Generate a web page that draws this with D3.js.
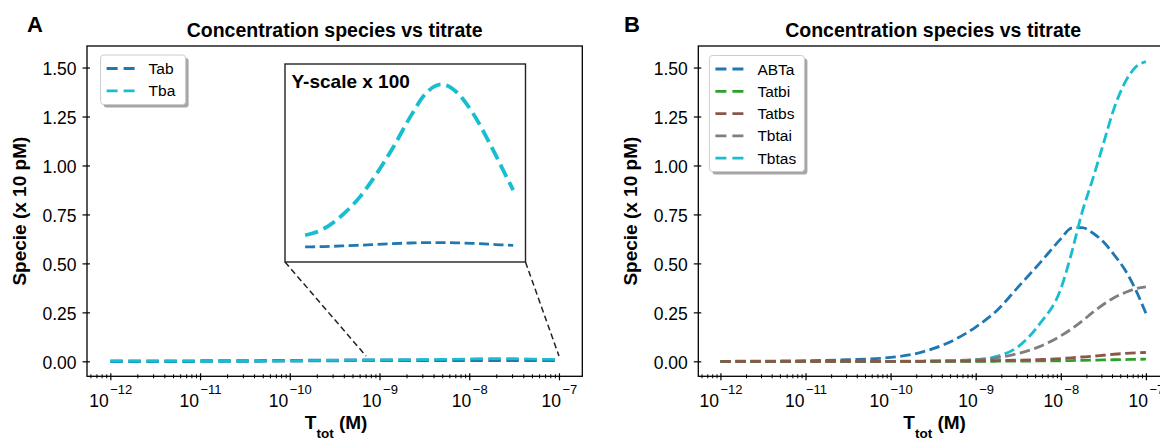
<!DOCTYPE html>
<html>
<head>
<meta charset="utf-8">
<script src="https://cdn.jsdelivr.net/npm/d3@7"></script>
<style>
  body { margin: 0; background: #fff; }
  svg text { font-family: "Liberation Sans", Arial, sans-serif; fill: #000; }
</style>
</head>
<body>
<div id="chart"></div>
<script>
// ---- data (log10 of T_tot in M, species in units of 10 pM) ----
var log10TtotA = [-12, -11, -10, -9.5, -9, -8.5, -8, -7.75, -7.5, -7.25, -7];
var tabA = [0.0002, 0.001, 0.003, 0.0045, 0.0058, 0.0059, 0.006, 0.006, 0.006, 0.0059, 0.0058];
var tbaA = [0.0002, 0.0006, 0.003, 0.005, 0.0065, 0.0085, 0.0123, 0.014, 0.0135, 0.011, 0.0085];

// inset of panel A, y values x 100
var log10TtotInset = [-8.97, -8.8, -8.64, -8.48, -8.33, -8.18, -8.03, -7.89, -7.75, -7.62, -7.47, -7.32, -7.2, -7.11];
var tabInset = [0.576, 0.578, 0.581, 0.585, 0.589, 0.593, 0.596, 0.598, 0.598, 0.597, 0.594, 0.590, 0.586, 0.584];
var tbaInset = [0.635, 0.669, 0.736, 0.829, 0.947, 1.082, 1.233, 1.352, 1.397, 1.360, 1.251, 1.099, 0.964, 0.863];
var zoomWindowExp = [-9.15, -7];   // x range shown in the inset
var zoomWindowTop = 0.027;         // top of the zoomed region in panel A
var insetYDomain = [0.5, 1.5];

var log10TtotB = [-12, -11.5, -11, -10.5, -10, -9.75, -9.5, -9.25, -9, -8.75, -8.5, -8.25, -8, -7.875, -7.75, -7.625, -7.5, -7.375, -7.25, -7.125, -7];
var abtaB  = [0, 0.001, 0.003, 0.008, 0.020, 0.035, 0.065, 0.11, 0.175, 0.26, 0.38, 0.50, 0.625, 0.68, 0.683, 0.655, 0.61, 0.545, 0.47, 0.37, 0.245];
var tatbiB = [0, 0, 0, 0, 0, 0, 0, 0, 0, 0.0005, 0.001, 0.002, 0.003, 0.004, 0.005, 0.006, 0.007, 0.008, 0.009, 0.010, 0.011];
var tatbsB = [0, 0, 0, 0, 0, 0, 0.0005, 0.001, 0.002, 0.004, 0.006, 0.009, 0.014, 0.018, 0.022, 0.026, 0.031, 0.036, 0.040, 0.043, 0.045];
var tbtaiB = [0, 0, 0, 0, 0, 0.001, 0.002, 0.004, 0.008, 0.018, 0.04, 0.075, 0.13, 0.165, 0.205, 0.25, 0.29, 0.325, 0.35, 0.37, 0.38];
var tbtasB = [0, 0, 0, 0, 0, 0, 0, 0.002, 0.008, 0.025, 0.075, 0.19, 0.37, 0.55, 0.76, 0.93, 1.11, 1.29, 1.42, 1.50, 1.53];

var seriesA = ["Tab", "Tba"];
var seriesB = ["ABTa", "Tatbi", "Tatbs", "Tbtai", "Tbtas"];
var yTicks = [0, 0.25, 0.5, 0.75, 1.0, 1.25, 1.5];
var xTickExponents = [-12, -11, -10, -9, -8, -7];
var titleText = "Concentration species vs titrate";

// ---- layout ----
var W = 1160, H = 439;
var plotTop = 46, plotBottom = 376.3;
var xDomainExp = [-12.26, -6.74];
var yDomain = [-0.0765, 1.61];
var blue = "#1f77b4", cyan = "#17becf", green = "#2ca02c", brown = "#8c564b", gray = "#7f7f7f";

var svg = d3.select("#chart").append("svg")
    .attr("width", W)
    .attr("height", H)
    .style("display", "block");

var panels = [
    {
        id: "A", left: 87, right: 582.3, letterX: 27, ylabelX: 26,
        names: seriesA, log: log10TtotA, values: [tabA, tbaA],
        colors: [blue, cyan], lw: [3.5, 2.6], dash: ["12.5,5.5", "12.5,5.5"],
        order: [0, 1],
        legend: {x: 100.6, y: 55, w: 85, h: 49.5}
    },
    {
        id: "B", left: 698.3, right: 1168, letterX: 624, ylabelX: 636.5,
        names: seriesB, log: log10TtotB, values: [abtaB, tatbiB, tatbsB, tbtaiB, tbtasB],
        colors: [blue, green, brown, gray, cyan], lw: [2.8, 2.8, 2.8, 2.8, 2.8],
        dash: ["10.5,4.5", "10.5,4.5", "10.5,4.5", "10.5,4.5", "10.5,4.5"],
        order: [0, 4, 3, 1, 2],
        legend: {x: 709.4, y: 55.5, w: 95, h: 116}
    }
];

function drawLegend(g, p) {
    var L = p.legend;
    var lg = g.append("g");
    lg.append("rect") // shadow
        .attr("x", L.x + 3).attr("y", L.y + 3)
        .attr("width", L.w).attr("height", L.h)
        .attr("rx", 3)
        .attr("fill", "#4d4d4d").attr("opacity", 0.5);
    lg.append("rect")
        .attr("x", L.x).attr("y", L.y)
        .attr("width", L.w).attr("height", L.h)
        .attr("rx", 3)
        .attr("fill", "#fff").attr("stroke", "#cccccc").attr("stroke-width", 1);
    p.names.forEach(function (name, i) {
        var cy = L.y + 13.5 + i * 22.3;
        lg.append("line")
            .attr("x1", L.x + 6).attr("x2", L.x + 34)
            .attr("y1", cy).attr("y2", cy)
            .attr("stroke", p.colors[i])
            .attr("stroke-width", 2.8)
            .attr("stroke-dasharray", "11,6");
        lg.append("text")
            .attr("x", L.x + 48).attr("y", cy)
            .attr("dy", "0.36em")
            .style("font-size", "15.5px")
            .text(name);
    });
}

function drawPanel(p) {
    var x = d3.scaleLog()
        .domain(xDomainExp.map(function (e) { return Math.pow(10, e); }))
        .range([p.left, p.right]);
    var y = d3.scaleLinear().domain(yDomain).range([plotBottom, plotTop]);
    var g = svg.append("g");

    svg.append("clipPath").attr("id", "clip" + p.id)
        .append("rect")
        .attr("x", p.left).attr("y", plotTop)
        .attr("width", p.right - p.left).attr("height", plotBottom - plotTop);

    var line = d3.line()
        .x(function (d) { return x(d[0]); })
        .y(function (d) { return y(d[1]); })
        .curve(d3.curveMonotoneX);

    p.order.forEach(function (i) {
        var pts = p.log.map(function (e, k) { return [Math.pow(10, e), p.values[i][k]]; });
        g.append("path")
            .datum(pts)
            .attr("d", line)
            .attr("fill", "none")
            .attr("stroke", p.colors[i])
            .attr("stroke-width", p.lw[i])
            .attr("stroke-dasharray", p.dash[i])
            .attr("clip-path", "url(#clip" + p.id + ")");
    });

    // x axis: minor then major ticks, direction in-out
    var minors = x.ticks().filter(function (v) {
        var l = Math.log10(v);
        return Math.abs(l - Math.round(l)) > 1e-6;
    });
    var xMinor = g.append("g")
        .attr("transform", "translate(0," + plotBottom + ")")
        .call(d3.axisBottom(x).tickValues(minors).tickSize(2).tickFormat(""));
    xMinor.select(".domain").remove();
    xMinor.selectAll(".tick line").attr("y1", -2).attr("stroke-width", 1);

    var majors = xTickExponents.map(function (e) { return Math.pow(10, e); });
    var xMajor = g.append("g")
        .attr("transform", "translate(0," + plotBottom + ")")
        .call(d3.axisBottom(x).tickValues(majors).tickSize(4));
    xMajor.attr("font-size", null).attr("font-family", null);
    xMajor.select(".domain").remove();
    xMajor.selectAll(".tick line").attr("y1", -3).attr("stroke-width", 1.2);
    xMajor.selectAll(".tick text").each(function (d) {
        var t = d3.select(this).text(null).attr("y", 30.5).attr("dy", null).style("font-size", "17.5px");
        t.append("tspan").text("10");
        t.append("tspan")
            .attr("dx", 1.5)
            .attr("dy", -13)
            .style("font-size", "13px")
            .text("\u2212" + Math.abs(Math.round(Math.log10(d))));
    });

    // y axis
    var yAx = g.append("g")
        .attr("transform", "translate(" + p.left + ",0)")
        .call(d3.axisLeft(y).tickValues(yTicks).tickSize(4.5).tickPadding(6).tickFormat(d3.format(".2f")));
    yAx.attr("font-size", null).attr("font-family", null);
    yAx.select(".domain").remove();
    yAx.selectAll(".tick line").attr("x1", 3).attr("stroke-width", 1.2);
    yAx.selectAll(".tick text").attr("dy", "0.4em").style("font-size", "17.5px");

    // frame
    g.append("rect")
        .attr("x", p.left).attr("y", plotTop)
        .attr("width", p.right - p.left).attr("height", plotBottom - plotTop)
        .attr("fill", "none").attr("stroke", "#000").attr("stroke-width", 1.3);

    // titles and labels
    var cx = (p.left + p.right) / 2;
    g.append("text")
        .attr("x", cx).attr("y", 36.5)
        .attr("text-anchor", "middle")
        .style("font-size", "19.5px").style("font-weight", "bold")
        .text(titleText);
    g.append("text")
        .attr("x", p.letterX).attr("y", 32)
        .style("font-size", "22px").style("font-weight", "bold")
        .text(p.id);
    g.append("text")
        .attr("transform", "translate(" + p.ylabelX + "," + (plotTop + plotBottom) / 2 + ") rotate(-90)")
        .attr("text-anchor", "middle")
        .style("font-size", "19px").style("font-weight", "bold")
        .text("Specie (x 10 pM)");
    var xl = g.append("text")
        .attr("x", cx + 1.5).attr("y", 428.5)
        .attr("text-anchor", "middle")
        .style("font-size", "19px").style("font-weight", "bold");
    xl.append("tspan").text("T");
    xl.append("tspan").attr("dy", 9).style("font-size", "13.5px").text("tot");
    xl.append("tspan").attr("dy", -9).text(" (M)");

    return {g: g, x: x, y: y};
}

var axA = drawPanel(panels[0]);
var axB = drawPanel(panels[1]);

// ---- inset of panel A ----
var inset = {left: 285, right: 525.5, top: 64, bottom: 262};
var gI = axA.g.append("g");

// connectors from inset corners to the zoomed region
[[inset.left, zoomWindowExp[0]], [inset.right, zoomWindowExp[1]]].forEach(function (c) {
    gI.append("line")
        .attr("x1", c[0]).attr("y1", inset.bottom)
        .attr("x2", axA.x(Math.pow(10, c[1]))).attr("y2", axA.y(zoomWindowTop))
        .attr("stroke", "#222").attr("stroke-width", 1.5)
        .attr("stroke-dasharray", "6,3.5");
});

gI.append("rect")
    .attr("x", inset.left).attr("y", inset.top)
    .attr("width", inset.right - inset.left).attr("height", inset.bottom - inset.top)
    .attr("fill", "#fff").attr("stroke", "#222").attr("stroke-width", 1.4);

var xI = d3.scaleLog()
    .domain(zoomWindowExp.map(function (e) { return Math.pow(10, e); }))
    .range([inset.left, inset.right]);
var yI = d3.scaleLinear().domain(insetYDomain).range([inset.bottom, inset.top]);
var lineI = d3.line()
    .x(function (d) { return xI(d[0]); })
    .y(function (d) { return yI(d[1]); })
    .curve(d3.curveMonotoneX);

[[tabInset, blue, 2.8, "10,4.5"], [tbaInset, cyan, 3.8, "13.5,6"]].forEach(function (s) {
    var pts = log10TtotInset.map(function (e, k) { return [Math.pow(10, e), s[0][k]]; });
    gI.append("path")
        .datum(pts)
        .attr("d", lineI)
        .attr("fill", "none")
        .attr("stroke", s[1])
        .attr("stroke-width", s[2])
        .attr("stroke-dasharray", s[3]);
});

gI.append("text")
    .attr("x", inset.left + 6.5).attr("y", 87.5)
    .style("font-size", "19px").style("font-weight", "bold")
    .attr("fill", "#222")
    .text("Y-scale x 100");

// legends on top
drawLegend(axA.g, panels[0]);
drawLegend(axB.g, panels[1]);
</script>
</body>
</html>
